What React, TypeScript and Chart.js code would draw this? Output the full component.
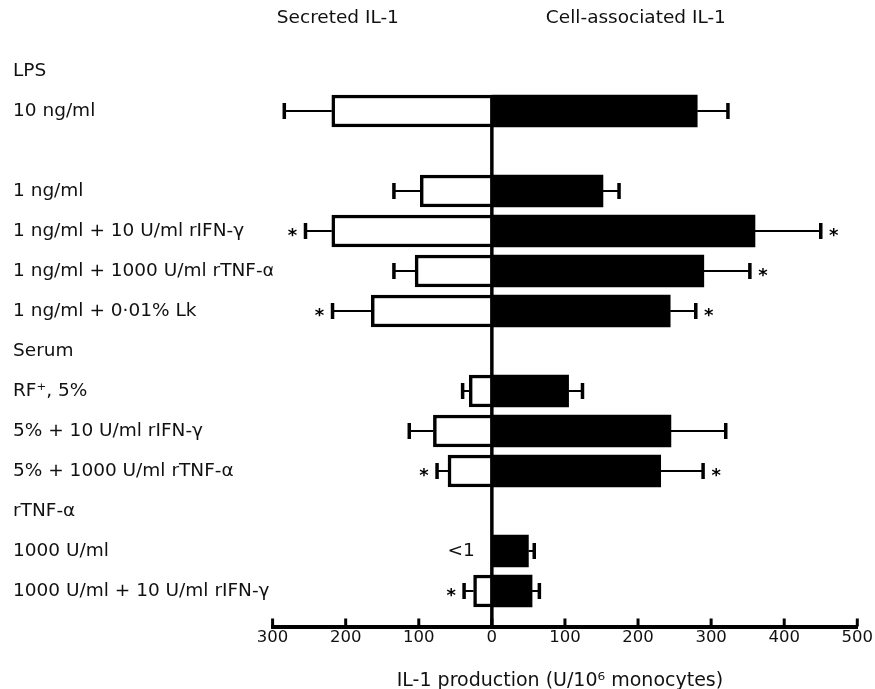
import React, { useEffect, useRef } from "react";
import { Chart, registerables } from "chart.js";

Chart.register(...registerables);

const FONT = "'DejaVu Sans', 'Liberation Sans', sans-serif";

const rowLabels = [
  "LPS",
  "10 ng/ml",
  "",
  "1 ng/ml",
  "1 ng/ml + 10 U/ml rIFN-γ",
  "1 ng/ml + 1000 U/ml rTNF-α",
  "1 ng/ml + 0·01% Lk",
  "Serum",
  "RF⁺, 5%",
  "5% + 10 U/ml rIFN-γ",
  "5% + 1000 U/ml rTNF-α",
  "rTNF-α",
  "1000 U/ml",
  "1000 U/ml + 10 U/ml rIFN-γ",
];

// Secreted IL-1 (drawn to the left)
const secreted = [null, 219, null, 98, 219, 105, 165, null, 31, 80, 60, null, null, 25];
const secretedErr = [null, 65, null, 36, 36, 29, 53, null, 9, 33, 15, null, null, 13];
const secretedSig = [false, false, false, false, true, false, true, false, false, false, true, false, false, true];
const secretedNote = ["", "", "", "", "", "", "", "", "", "", "", "", "<1", ""];

// Cell-associated IL-1 (drawn to the right)
const cellAssoc = [null, 281, null, 152, 360, 290, 244, null, 105, 245, 231, null, 50, 55];
const cellErr = [null, 42, null, 22, 90, 63, 35, null, 19, 75, 58, null, 8, 10];
const cellSig = [false, false, false, false, true, true, true, false, false, false, true, false, false, false];

const xTicks = [-300, -200, -100, 0, 100, 200, 300, 400, 500];
const panelTitles = ["Secreted IL-1", "Cell-associated IL-1"];
const xTitle = "IL-1 production (U/10⁶ monocytes)";

const overlay = {
  id: "overlay",
  afterDatasetsDraw(chart: any) {
    const { ctx, chartArea, scales } = chart;
    const x = scales.x;
    const y = scales.y;
    const x0 = x.getPixelForValue(0);
    ctx.save();

    // zero line from top of first bar to the axis
    let topY = chartArea.bottom;
    const meta = chart.getDatasetMeta(1);
    meta.data.forEach((el: any, i: number) => {
      if (cellAssoc[i] != null) topY = Math.min(topY, el.y - el.height / 2);
    });
    ctx.strokeStyle = "#000";
    ctx.lineWidth = 3.5;
    ctx.beginPath();
    ctx.moveTo(x0, topY);
    ctx.lineTo(x0, chartArea.bottom);
    ctx.stroke();

    const drawErr = (val: number, err: number, sign: number, yc: number, sig: boolean) => {
      const xs = x.getPixelForValue(sign * val);
      const xe = x.getPixelForValue(sign * (val + err));
      ctx.strokeStyle = "#000";
      ctx.lineWidth = 2;
      ctx.beginPath();
      ctx.moveTo(xs, yc);
      ctx.lineTo(xe, yc);
      ctx.stroke();
      ctx.lineWidth = 3.5;
      ctx.beginPath();
      ctx.moveTo(xe, yc - 8);
      ctx.lineTo(xe, yc + 8);
      ctx.stroke();
      if (sig) {
        const size = 18;
        ctx.fillStyle = "#000";
        ctx.font = `bold ${size}px ${FONT}`;
        ctx.textAlign = "center";
        ctx.textBaseline = "alphabetic";
        ctx.fillText("*", xe + sign * 13, yc + 10);
      }
    };

    rowLabels.forEach((_, i) => {
      const yc = y.getPixelForValue(i);
      if (secreted[i] != null) drawErr(secreted[i] as number, secretedErr[i] as number, -1, yc, secretedSig[i]);
      if (cellAssoc[i] != null) drawErr(cellAssoc[i] as number, cellErr[i] as number, 1, yc, cellSig[i]);
      if (secretedNote[i]) {
        ctx.fillStyle = "#111";
        ctx.font = `18.5px ${FONT}`;
        ctx.textAlign = "right";
        ctx.textBaseline = "middle";
        ctx.fillText(secretedNote[i], x0 - 17, yc);
      }
    });

    // upward tick knobs on the x axis
    ctx.strokeStyle = "#000";
    ctx.lineWidth = 3;
    x.ticks.forEach((t: any) => {
      const px = x.getPixelForValue(t.value);
      ctx.beginPath();
      ctx.moveTo(px, chartArea.bottom);
      ctx.lineTo(px, chartArea.bottom - 8);
      ctx.stroke();
    });

    // panel titles
    ctx.fillStyle = "#111";
    ctx.font = `18.5px ${FONT}`;
    ctx.textAlign = "center";
    ctx.textBaseline = "middle";
    ctx.fillText(panelTitles[0], x0 - 154, 18.5);
    ctx.fillText(panelTitles[1], x0 + 144, 18.5);

    // axis title
    ctx.font = `19px ${FONT}`;
    ctx.textBaseline = "alphabetic";
    ctx.fillText(xTitle, (chartArea.left + chartArea.right) / 2 - 5, chartArea.bottom + 59.5);
    ctx.restore();
  },
};

export default function App() {
  const canvasRef = useRef<HTMLCanvasElement | null>(null);

  useEffect(() => {
    if (!canvasRef.current) return;
    const chart = new Chart(canvasRef.current, {
      type: "bar",
      data: {
        datasets: [
          {
            label: panelTitles[0],
            data: rowLabels.map((_, i) => ({ y: i, x: secreted[i] == null ? null : -(secreted[i] as number) })) as any,
            backgroundColor: "#fff",
            borderColor: "#000",
            borderWidth: 3.5,
            barThickness: 32,
          },
          {
            label: panelTitles[1],
            data: rowLabels.map((_, i) => ({ y: i, x: cellAssoc[i] })) as any,
            backgroundColor: "#000",
            borderColor: "#000",
            borderWidth: 0,
            barThickness: 32,
          },
        ],
      },
      options: {
        indexAxis: "y",
        animation: false,
        responsive: false,
        layout: { padding: { left: 13, right: 17.7, top: 47, bottom: 41.5 } },
        plugins: { legend: { display: false }, tooltip: { enabled: false } },
        scales: {
          x: {
            type: "linear",
            min: -300,
            max: 500,
            stacked: true,
            afterBuildTicks: (s: any) => {
              s.ticks = xTicks.map((v) => ({ value: v }));
            },
            afterFit: (s: any) => {
              s.height = 21;
            },
            ticks: {
              autoSkip: false,
              maxRotation: 0,
              padding: 1,
              color: "#111",
              font: { family: FONT, size: 16.5 },
              callback: (v: any) => String(Math.abs(Number(v))),
            },
            grid: { display: false, drawTicks: false },
            border: { display: true, color: "#000", width: 4 },
          },
          y: {
            type: "linear",
            reverse: true,
            offset: false,
            min: -0.6,
            max: 13.8875,
            stacked: true,
            afterBuildTicks: (s: any) => {
              s.ticks = rowLabels.map((_, i) => ({ value: i }));
            },
            afterFit: (s: any) => {
              s.width = 259.6;
            },
            ticks: {
              autoSkip: false,
              crossAlign: "far",
              color: "#111",
              font: { family: FONT, size: 18.5 },
              callback: (v: any) => rowLabels[Number(v)] ?? "",
            },
            grid: { display: false, drawTicks: false },
            border: { display: false },
          },
        },
      } as any,
      plugins: [overlay],
    });
    return () => chart.destroy();
  }, []);

  return (
    <div style={{ position: "fixed", left: 0, top: 0, width: 875, height: 689, background: "#fff" }}>
      <canvas ref={canvasRef} width={875} height={689} style={{ display: "block" }} />
    </div>
  );
}
